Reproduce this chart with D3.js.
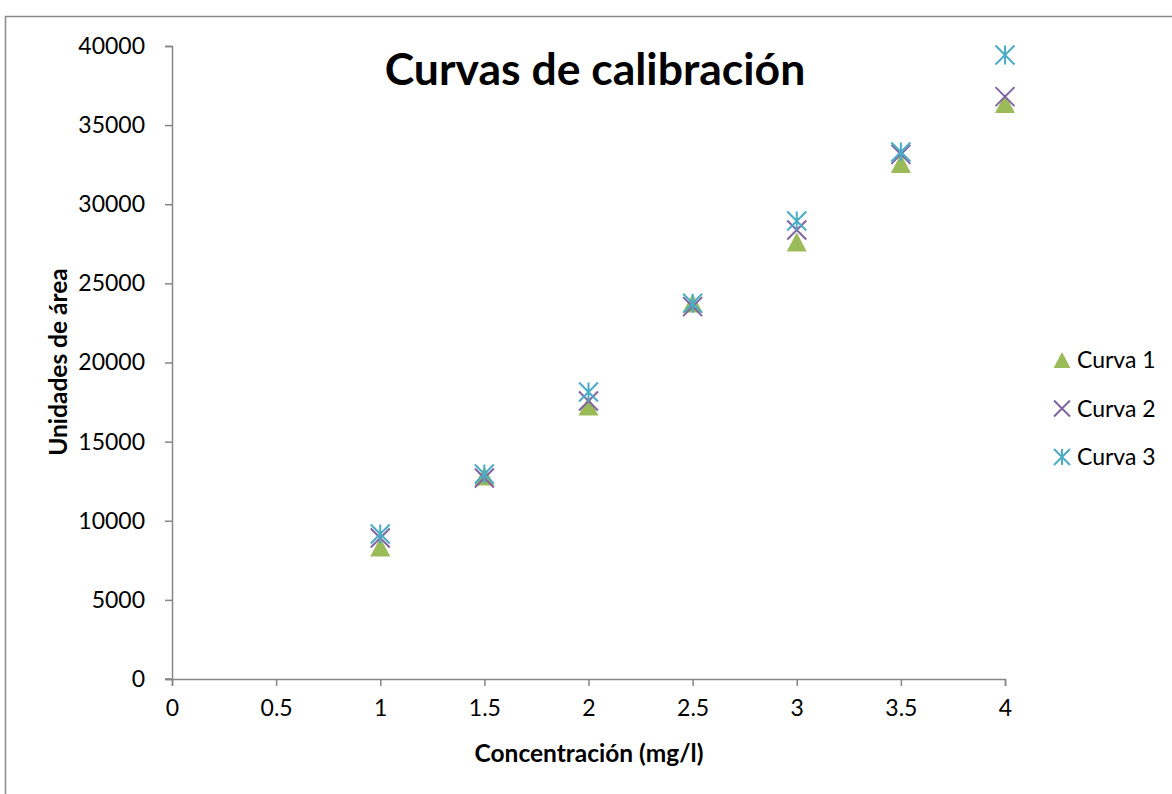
<!DOCTYPE html>
<html>
<head>
<meta charset="utf-8">
<script src="https://cdn.jsdelivr.net/npm/d3@7"></script>
<style>
  html, body { margin: 0; padding: 0; background: #fff; }
  svg { display: block; }
  text { font-family: Lato, "Open Sans", sans-serif; fill: #000; }
</style>
</head>
<body>
<svg id="chart" width="1172" height="794"></svg>
<script>
// Concentration levels (mg/l)
const concentrations = [1, 1.5, 2, 2.5, 3, 3.5, 4];
// Peak area units for each calibration run
const curva1 = [8340, 12830, 17250, 23760, 27610, 32575, 36370];
const curva2 = [8910, 12700, 17570, 23530, 28370, 33150, 36800];
const curva3 = [9163, 12950, 18140, 23740, 28940, 33300, 39430];
const seriesNames = ["Curva 1", "Curva 2", "Curva 3"];
const seriesColors = ["#9BBB59", "#8064A2", "#4BACC6"];
const seriesShapes = ["triangle", "x", "star"];
const xTicks = [0, 0.5, 1, 1.5, 2, 2.5, 3, 3.5, 4];
const yTicks = [0, 5000, 10000, 15000, 20000, 25000, 30000, 35000, 40000];

const svg = d3.select("#chart");
const axisColor = "#868686";

// Outer chart frame
svg.append("rect")
  .attr("x", 5.5).attr("y", 16.5)
  .attr("width", 1180).attr("height", 800)
  .attr("fill", "#fff").attr("stroke", "#8a8a8a").attr("stroke-width", 1.5);

const x = d3.scaleLinear().domain([0, 4]).range([172, 1005]);
const y = d3.scaleLinear().domain([0, 40000]).range([679, 46]);

// Y axis
const yAxis = svg.append("g").attr("transform", `translate(${x(0)},0)`)
  .call(d3.axisLeft(y).tickValues(yTicks).tickSize(7).tickPadding(20).tickFormat(d3.format("d")));
// X axis
const xAxis = svg.append("g").attr("transform", `translate(0,${y(0)})`)
  .call(d3.axisBottom(x).tickValues(xTicks).tickSize(7).tickPadding(14).tickFormat(d => String(d)));

[yAxis, xAxis].forEach(g => {
  g.select(".domain").attr("stroke", axisColor).attr("stroke-width", 1.5);
  g.selectAll(".tick line").attr("stroke", axisColor).attr("stroke-width", 1.5);
  g.selectAll(".tick text").style("font-size", "23px").attr("fill", "#000")
    .style("font-family", "Lato, sans-serif");
});
// x-axis line reaches across the y-axis tick at zero
svg.append("line").attr("x1", x(0) - 7).attr("x2", x(0))
  .attr("y1", y(0)).attr("y2", y(0)).attr("stroke", axisColor).attr("stroke-width", 1.5);

// Marker drawing
function marker(g, shape, color, s) {
  const h = s / 2;
  if (shape === "triangle") {
    g.append("path")
      .attr("d", `M0,${-h} L${h * 1.05},${h} L${-h * 1.05},${h} Z`)
      .attr("fill", color);
  } else if (shape === "x") {
    g.append("path")
      .attr("d", `M${-h},${-h} L${h},${h} M${-h},${h} L${h},${-h}`)
      .attr("stroke", color).attr("stroke-width", 2).attr("fill", "none");
  } else {
    g.append("path")
      .attr("d", `M${-h},${-h} L${h},${h} M${-h},${h} L${h},${-h} M0,${-h} L0,${h}`)
      .attr("stroke", color).attr("stroke-width", 2).attr("fill", "none");
  }
}

const allSeries = [curva1, curva2, curva3];
allSeries.forEach((vals, i) => {
  const g = svg.append("g");
  vals.forEach((v, j) => {
    const m = g.append("g").attr("transform", `translate(${x(concentrations[j])},${y(v)})`);
    marker(m, seriesShapes[i], seriesColors[i], 19);
  });
});

// Title
svg.append("text")
  .attr("x", 595).attr("y", 85)
  .attr("text-anchor", "middle")
  .style("font-size", "44.5px").style("font-weight", "bold")
  .text("Curvas de calibración");

// Axis titles
svg.append("text")
  .attr("x", 589).attr("y", 762)
  .attr("text-anchor", "middle")
  .style("font-size", "24.5px").style("font-weight", "bold")
  .text("Concentración (mg/l)");

svg.append("text")
  .attr("transform", "translate(67,362) rotate(-90)")
  .attr("text-anchor", "middle")
  .style("font-size", "24.5px").style("font-weight", "bold")
  .text("Unidades de área");

// Legend
const legend = svg.append("g");
seriesNames.forEach((name, i) => {
  const ly = 360 + i * 48.5;
  const m = legend.append("g").attr("transform", `translate(1062,${ly})`);
  marker(m, seriesShapes[i], seriesColors[i], 16);
  legend.append("text")
    .attr("x", 1077).attr("y", ly + 8)
    .style("font-size", "23px")
    .text(name);
});
</script>
</body>
</html>
